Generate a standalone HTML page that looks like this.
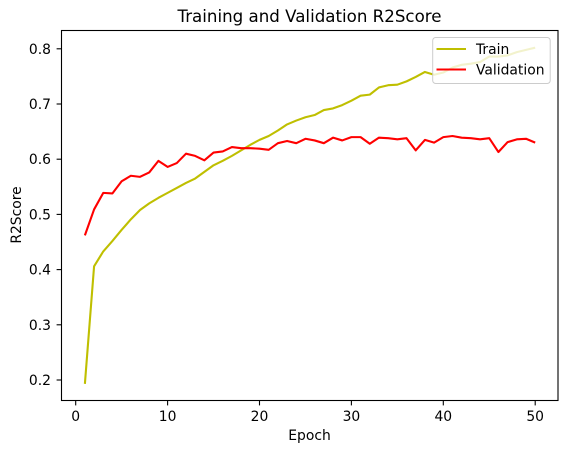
<!DOCTYPE html>
<html>
<head>
<meta charset="utf-8">
<style>
html,body{margin:0;padding:0;background:#fff;width:567px;height:453px;overflow:hidden}
svg{display:block}
text{font-family:"DejaVu Sans",sans-serif;font-size:13.89px;fill:#000}
</style>
</head>
<body>
<svg id="chart" width="567" height="453" viewBox="0 0 567 453" xmlns="http://www.w3.org/2000/svg">
<text x="309.5" y="22" text-anchor="middle" style="font-size:16.67px">Training and Validation R2Score</text>
<g id="marks"></g>
<rect x="61.5" y="30.5" width="496.5" height="370" fill="none" stroke="#000" stroke-width="1.1"/>
<g id="ticks"></g>
<text x="309.5" y="440" text-anchor="middle">Epoch</text>
<text transform="translate(21 215) rotate(-90)" text-anchor="middle">R2Score</text>
<g>
<rect x="432.7" y="37.5" width="117.5" height="46" rx="3" fill="#fff" fill-opacity="0.8" stroke="#ccc" stroke-width="1"/>
<line x1="436.5" y1="49" x2="466" y2="49" stroke="#bfbf00" stroke-width="2.1"/>
<text x="476" y="54">Train</text>
<line x1="436.5" y1="69.5" x2="466" y2="69.5" stroke="#f00" stroke-width="2.1"/>
<text x="476" y="74.5">Validation</text>
</g>
</svg>
<script>
const epochs = [1,2,3,4,5,6,7,8,9,10,11,12,13,14,15,16,17,18,19,20,21,22,23,24,25,26,27,28,29,30,31,32,33,34,35,36,37,38,39,40,41,42,43,44,45,46,47,48,49,50];
const trainValues = [.193,.406,.433,.452,.472,.491,.508,.520,.530,.539,.548,.557,.565,.577,.589,.597,.606,.616,.626,.635,.642,.652,.663,.670,.676,.680,.689,.692,.698,.706,.715,.717,.730,.734,.735,.741,.749,.758,.753,.757,.766,.771,.773,.776,.786,.786,.788,.794,.798,.802];
const validationValues = [.462,.509,.539,.538,.560,.570,.568,.576,.597,.586,.593,.610,.606,.598,.612,.614,.622,.620,.620,.619,.617,.629,.633,.629,.637,.634,.629,.639,.634,.640,.640,.628,.639,.638,.636,.638,.616,.635,.630,.640,.642,.639,.638,.636,.638,.613,.631,.636,.637,.630];
const xTickLabels = [0,10,20,30,40,50];
const yTickLabels = [0.2,0.3,0.4,0.5,0.6,0.7,0.8];

const NS = 'http://www.w3.org/2000/svg';
const xScale = v => 75.7 + v * 9.19;
const yScale = v => 380 - (v - 0.2) * 552;
const marks = document.getElementById('marks');
const ticks = document.getElementById('ticks');

const trainLine = document.createElementNS(NS, 'polyline');


trainLine.setAttribute('points', epochs.map((e, i) => xScale(e) + ',' + yScale(trainValues[i])).join(' '));
trainLine.setAttribute('fill', 'none');
trainLine.setAttribute('stroke', '#bfbf00');
trainLine.setAttribute('stroke-width', '2.1');
trainLine.setAttribute('stroke-linejoin', 'round');
marks.appendChild(trainLine);

const validationLine = document.createElementNS(NS, 'polyline');


validationLine.setAttribute('points', epochs.map((e, i) => xScale(e) + ',' + yScale(validationValues[i])).join(' '));
validationLine.setAttribute('fill', 'none');
validationLine.setAttribute('stroke', '#f00');
validationLine.setAttribute('stroke-width', '2.1');
validationLine.setAttribute('stroke-linejoin', 'round');
marks.appendChild(validationLine);

xTickLabels.forEach(t => {
  const x = xScale(t);
  const tick = document.createElementNS(NS, 'line');
  
  
  tick.setAttribute('x1', x);
  tick.setAttribute('x2', x);
  tick.setAttribute('y1', 400.5);
  tick.setAttribute('y2', 405.4);
  tick.setAttribute('stroke', '#000');
  tick.setAttribute('stroke-width', '1.1');
  ticks.appendChild(tick);
  const label = document.createElementNS(NS, 'text');
  
  
  label.setAttribute('x', x);
  label.setAttribute('y', 421);
  label.setAttribute('text-anchor', 'middle');
  label.textContent = t;
  ticks.appendChild(label);
});

yTickLabels.forEach(t => {
  const y = yScale(t);
  const tick = document.createElementNS(NS, 'line');
  
  
  tick.setAttribute('x1', 56.6);
  tick.setAttribute('x2', 61.5);
  tick.setAttribute('y1', y);
  tick.setAttribute('y2', y);
  tick.setAttribute('stroke', '#000');
  tick.setAttribute('stroke-width', '1.1');
  ticks.appendChild(tick);
  const label = document.createElementNS(NS, 'text');
  
  
  label.setAttribute('x', 51);
  label.setAttribute('y', y + 5);
  label.setAttribute('text-anchor', 'end');
  label.textContent = t.toFixed(1);
  ticks.appendChild(label);
});
</script>
</body>
</html>
